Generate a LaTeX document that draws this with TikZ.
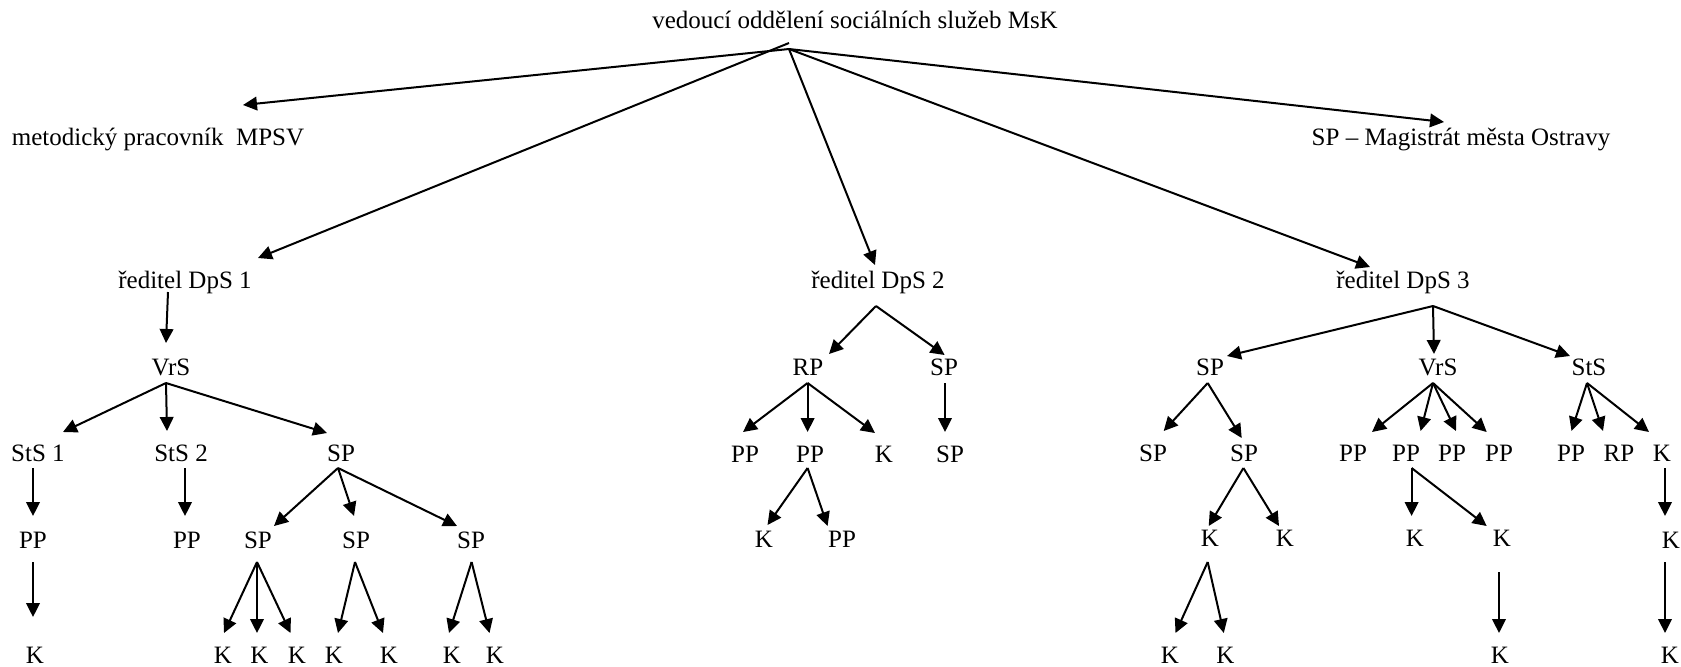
\documentclass[tikz,border=0pt]{standalone}
\usepackage{fontspec}
\setmainfont{Liberation Serif}
\usetikzlibrary{arrows.meta}
\begin{document}
\begin{tikzpicture}[x=0.5pt,y=-0.5pt,
  lbl/.style={inner sep=0pt,anchor=base,font=\fontsize{12.5}{15}\selectfont},
  arr/.style={line width=1pt,-{Triangle[length=7pt,width=6.8pt]}}]
\useasboundingbox (0,0) rectangle (1681,666);
% ---------- nodes ----------
\node[lbl] (top)  at (855,28)  {vedoucí oddělení sociálních služeb MsK};
\node[lbl] (mpsv) at (158,145) {metodický pracovník\ \ MPSV};
\node[lbl] (mag)  at (1461,145) {SP – Magistrát města Ostravy};
\node[lbl] (d1) at (185,288) {ředitel DpS 1};
\node[lbl] (d2) at (878,288) {ředitel DpS 2};
\node[lbl] (d3) at (1403,288) {ředitel DpS 3};
% left
\node[lbl] (vrs1) at (171,375) {VrS};
\node[lbl] (sts1) at (38,461) {StS 1};
\node[lbl] (sts2) at (181,461) {StS 2};
\node[lbl] (sp1)  at (341,461) {SP};
\node[lbl] (pp1)  at (33,548) {PP};
\node[lbl] (pp2)  at (187,548) {PP};
\node[lbl] (sp1a) at (258,548) {SP};
\node[lbl] (sp1b) at (356,548) {SP};
\node[lbl] (sp1c) at (471,548) {SP};
\node[lbl] (k1) at (35,663) {K};
\node[lbl] (k2) at (223,663) {K};
\node[lbl] (k3) at (259.5,663) {K};
\node[lbl] (k4) at (297,663) {K};
\node[lbl] (k5) at (334,663) {K};
\node[lbl] (k6) at (389,663) {K};
\node[lbl] (k7) at (452,663) {K};
\node[lbl] (k8) at (495,663) {K};
% middle
\node[lbl] (rp2)  at (808,375) {RP};
\node[lbl] (sp2)  at (944,375) {SP};
\node[lbl] (pp2a) at (745,462) {PP};
\node[lbl] (pp2b) at (810,462) {PP};
\node[lbl] (k2a)  at (884,462) {K};
\node[lbl] (sp2a) at (950,462) {SP};
\node[lbl] (k2b)  at (764,547) {K};
\node[lbl] (pp2c) at (842,547) {PP};
% right
\node[lbl] (sp3)  at (1210,375) {SP};
\node[lbl] (vrs3) at (1438,375) {VrS};
\node[lbl] (sts3) at (1589,375) {StS};
\node[lbl] (sp3a) at (1153,461) {SP};
\node[lbl] (sp3b) at (1244,461) {SP};
\node[lbl] (pp3a) at (1353,461) {PP};
\node[lbl] (pp3b) at (1406,461) {PP};
\node[lbl] (pp3c) at (1452,461) {PP};
\node[lbl] (pp3d) at (1499,461) {PP};
\node[lbl] (pp3e) at (1571,461) {PP};
\node[lbl] (rp3)  at (1619,461) {RP};
\node[lbl] (k3a)  at (1662,461) {K};
\node[lbl] (k3b)  at (1210,546) {K};
\node[lbl] (k3c)  at (1285,546) {K};
\node[lbl] (k3d)  at (1415,546) {K};
\node[lbl] (k3e)  at (1502,546) {K};
\node[lbl] (k3f)  at (1671,548) {K};
\node[lbl] (k3g)  at (1170,663) {K};
\node[lbl] (k3h)  at (1225.5,663) {K};
\node[lbl] (k3i)  at (1500,663) {K};
\node[lbl] (k3j)  at (1670,663) {K};
% ---------- fork points (below parents) ----------
\coordinate (topF)  at (789,49);
\coordinate (topF2) at (789,43);
\coordinate (d1F)   at (168,292);
\coordinate (d2F)   at (876,306);
\coordinate (d3F)   at (1433,306);
\coordinate (vrs1F) at (166,383);
\coordinate (sts1F) at (33,468);
\coordinate (pp1F)  at (33,562);
\coordinate (sts2F) at (185,468);
\coordinate (sp1F)  at (338,468);
\coordinate (sp1aF) at (257,562);
\coordinate (sp1bF) at (355,562);
\coordinate (sp1cF) at (471.6,562);
\coordinate (rp2F)  at (807.6,383);
\coordinate (sp2F)  at (945,383);
\coordinate (pp2bF) at (807.6,468);
\coordinate (sp3F)  at (1207.7,383);
\coordinate (vrs3F) at (1433,383);
\coordinate (sts3F) at (1587,383);
\coordinate (sp3bF) at (1243.4,468);
\coordinate (pp3bF) at (1411.6,468);
\coordinate (k3aF)  at (1665,468);
\coordinate (k3bF)  at (1207.7,562);
\coordinate (k3eF)  at (1499,572);
\coordinate (k3fF)  at (1665,562);
% ---------- arrow tips (above children) ----------
\coordinate (mpsvT) at (243,105);
\coordinate (magT)  at (1444,122);
\coordinate (d1T)   at (258,258);
\coordinate (d2T)   at (875,265);
\coordinate (d3T)   at (1370,267);
\coordinate (vrs1T) at (166,343);
\coordinate (sts1T) at (63,432);
\coordinate (sts2T) at (167,431);
\coordinate (sp1T)  at (327,433);
\coordinate (pp1T)  at (33,516);
\coordinate (k1T)   at (33,617);
\coordinate (pp2T)  at (185,516);
\coordinate (sp1aT) at (274,526);
\coordinate (sp1bT) at (354,516);
\coordinate (sp1cT) at (457,526);
\coordinate (k2T) at (224,633);
\coordinate (k3T) at (257,633);
\coordinate (k4T) at (290.5,633);
\coordinate (k5T) at (338,633);
\coordinate (k6T) at (383,633);
\coordinate (k7T) at (449,633);
\coordinate (k8T) at (489.5,633);
\coordinate (rp2T)  at (829,354);
\coordinate (sp2T)  at (944.6,355);
\coordinate (pp2aT) at (743,432);
\coordinate (pp2bT) at (807.6,432);
\coordinate (k2aT)  at (875,433);
\coordinate (sp2aT) at (945,432);
\coordinate (k2bT)  at (767.5,525);
\coordinate (pp2cT) at (827.6,526);
\coordinate (sp3T)  at (1227,356);
\coordinate (vrs3T) at (1434,354);
\coordinate (sts3T) at (1570,356);
\coordinate (sp3aT) at (1163.7,431);
\coordinate (sp3bT) at (1241.7,438);
\coordinate (pp3aT) at (1372,432);
\coordinate (pp3bT) at (1420.6,431);
\coordinate (pp3cT) at (1456,431);
\coordinate (pp3dT) at (1486.7,432);
\coordinate (pp3eT) at (1571.5,431);
\coordinate (rp3T)  at (1603,431);
\coordinate (k3aT)  at (1649,432);
\coordinate (k3bT)  at (1208.7,526);
\coordinate (k3cT)  at (1279,526);
\coordinate (k3dT)  at (1411.6,516);
\coordinate (k3eT)  at (1486.7,526);
\coordinate (k3fT)  at (1665,516);
\coordinate (k3gT)  at (1175.5,633);
\coordinate (k3hT)  at (1223.8,633);
\coordinate (k3iT)  at (1499,633);
\coordinate (k3jT)  at (1665,633);
% ---------- connectors ----------
\draw[arr] (topF) -- (mpsvT);
\draw[arr] (topF2) -- (d1T);
\draw[arr] (topF) -- (d2T);
\draw[arr] (topF) -- (d3T);
\draw[arr] (topF) -- (magT);
% left tree
\draw[arr] (d1F) -- (vrs1T);
\foreach \c in {sts1,sts2,sp1} \draw[arr] (vrs1F) -- (\c T);
\draw[arr] (sts1F) -- (pp1T);
\draw[arr] (pp1F) -- (k1T);
\draw[arr] (sts2F) -- (pp2T);
\foreach \c in {sp1a,sp1b,sp1c} \draw[arr] (sp1F) -- (\c T);
\foreach \c in {k2,k3,k4} \draw[arr] (sp1aF) -- (\c T);
\foreach \c in {k5,k6} \draw[arr] (sp1bF) -- (\c T);
\foreach \c in {k7,k8} \draw[arr] (sp1cF) -- (\c T);
% middle tree
\foreach \c in {rp2,sp2} \draw[arr] (d2F) -- (\c T);
\foreach \c in {pp2a,pp2b,k2a} \draw[arr] (rp2F) -- (\c T);
\draw[arr] (sp2F) -- (sp2aT);
\foreach \c in {k2b,pp2c} \draw[arr] (pp2bF) -- (\c T);
% right tree
\foreach \c in {sp3,vrs3,sts3} \draw[arr] (d3F) -- (\c T);
\foreach \c in {sp3a,sp3b} \draw[arr] (sp3F) -- (\c T);
\foreach \c in {pp3a,pp3b,pp3c,pp3d} \draw[arr] (vrs3F) -- (\c T);
\foreach \c in {pp3e,rp3,k3a} \draw[arr] (sts3F) -- (\c T);
\foreach \c in {k3b,k3c} \draw[arr] (sp3bF) -- (\c T);
\foreach \c in {k3d,k3e} \draw[arr] (pp3bF) -- (\c T);
\draw[arr] (k3aF) -- (k3fT);
\foreach \c in {k3g,k3h} \draw[arr] (k3bF) -- (\c T);
\draw[arr] (k3eF) -- (k3iT);
\draw[arr] (k3fF) -- (k3jT);
\end{tikzpicture}
\end{document}
